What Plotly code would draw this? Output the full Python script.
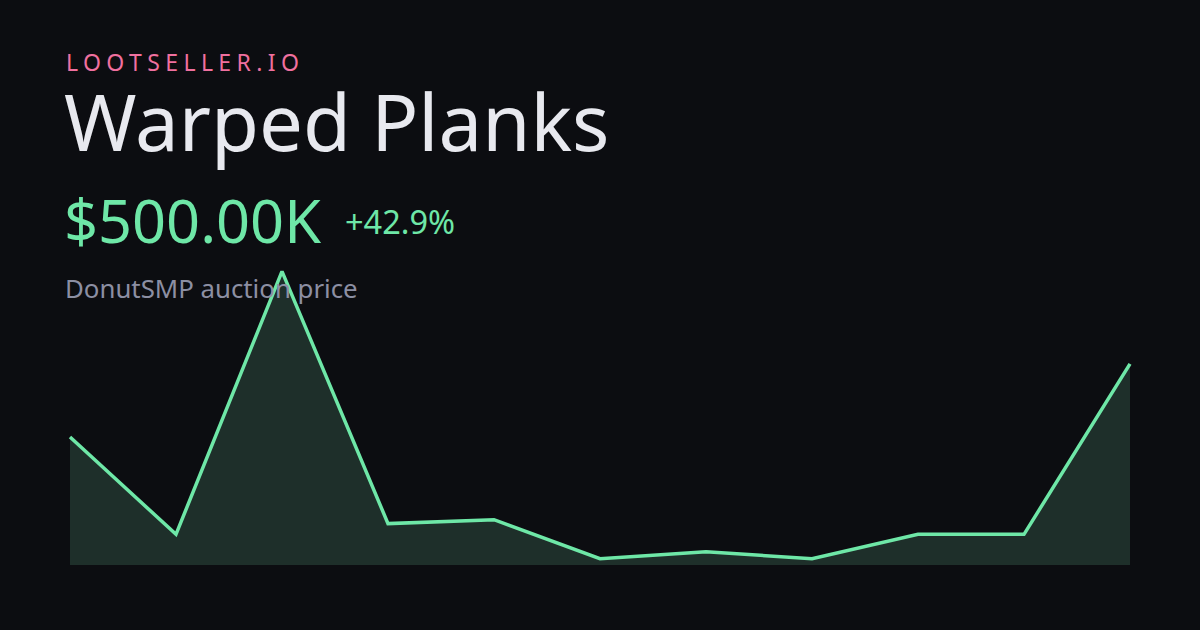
import plotly.graph_objects as go

# Data
periods = list(range(11))
prices_k = [350, 150, 690, 172, 180, 100, 114, 100, 150, 150, 500]
brand = "LOOTSELLER.IO"
item_name = "Warped Planks"
price_label = "$500.00K"
change_label = "+42.9%"
subtitle = "DonutSMP auction price"

W, H = 1200, 630
L, R, T, B = 60, 60, 250, 65

BG = "#0c0d11"
GREEN = "#6ee7a7"
FILL = "#1e2f2a"

def px(xp):
    return (xp - L) / (W - L - R)

def py(yp):
    return (H - B - yp) / (H - T - B)

fig = go.Figure()
fig.add_trace(go.Scatter(
    x=periods, y=prices_k, mode="lines",
    line=dict(color=GREEN, width=3.5),
    fill="tozeroy", fillcolor=FILL,
    hoverinfo="skip", showlegend=False,
))

font = "Noto Sans"
ann = [
    dict(text='<span style="letter-spacing:5.4px">' + brand + '</span>',
         x=px(64), y=py(62.5), size=23, color="#f0709f"),
    dict(text=item_name, x=px(62), y=py(121.5), size=78, color="#e8e9ef"),
    dict(text=price_label, x=px(62), y=py(219.5), size=59.5, color=GREEN),
    dict(text=change_label, x=px(343), y=py(221), size=32.5, color=GREEN),
    dict(text=subtitle, x=px(63), y=py(287.5), size=25.8, color="#8c8fa3"),
]
for a in ann:
    fig.add_annotation(
        text=a["text"], x=a["x"], y=a["y"], xref="paper", yref="paper",
        xanchor="left", yanchor="middle", showarrow=False,
        font=dict(family=font, size=a["size"], color=a["color"]),
    )

pad = 10 / 106
fig.update_layout(
    width=W, height=H,
    margin=dict(l=L, r=R, t=T, b=B),
    paper_bgcolor=BG, plot_bgcolor=BG,
    xaxis=dict(visible=False, range=[-pad, 10 + pad], fixedrange=True),
    yaxis=dict(visible=False, range=[87, 734], fixedrange=True),
)

fig.write_html(
    "out.html",
    config={"displayModeBar": False},
    post_script="document.body.style.margin='0';document.body.style.background='#0c0d11';",
)
